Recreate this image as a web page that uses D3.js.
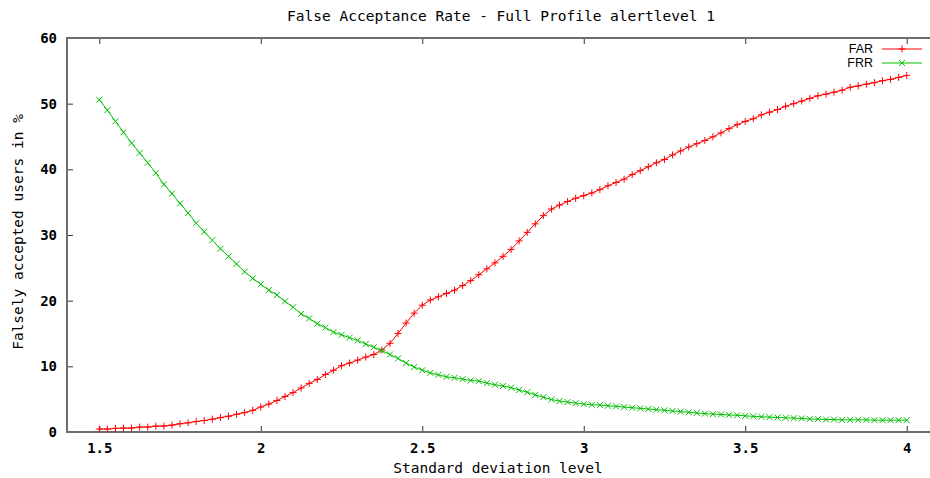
<!DOCTYPE html>
<html>
<head>
<meta charset="utf-8">
<script src="https://cdn.jsdelivr.net/npm/d3@7"></script>
<style>
  body { margin: 0; background: #fff; }
  text { font-family: "DejaVu Sans Mono", "Liberation Mono", monospace; }
</style>
</head>
<body>
<svg id="chart"></svg>
<script>
// standard deviation levels 1.5 .. 4.0, step 0.025
const levels = d3.range(0, 101).map(i => +(1.5 + i * 0.025).toFixed(3));

const farValues = [
  0.45, 0.45, 0.55, 0.6, 0.6, 0.75, 0.75, 0.9, 0.9, 1.05,
  1.25, 1.4, 1.6, 1.75, 1.95, 2.2, 2.4, 2.7, 2.95, 3.3,
  3.8, 4.25, 4.8, 5.4, 6.0, 6.7, 7.4, 8.0, 8.75, 9.4,
  10.1, 10.5, 10.95, 11.4, 11.8, 12.5, 13.5, 15.0, 16.6, 18.1,
  19.3, 20.1, 20.6, 21.1, 21.6, 22.3, 23.05, 23.95, 24.85, 25.75,
  26.75, 27.8, 29.1, 30.4, 31.7, 32.95, 33.95, 34.55, 35.1, 35.6,
  36.0, 36.4, 36.9, 37.5, 38.0, 38.5, 39.2, 39.8, 40.4, 41.0,
  41.5, 42.2, 42.8, 43.4, 43.9, 44.4, 44.95, 45.55, 46.2, 46.8,
  47.3, 47.7, 48.3, 48.7, 49.1, 49.6, 50.0, 50.4, 50.8, 51.2,
  51.45, 51.75, 52.05, 52.5, 52.7, 52.97, 53.2, 53.5, 53.7, 54.0,
  54.3
];

const frrValues = [
  50.6, 49.0, 47.3, 45.65, 44.0, 42.5, 41.0, 39.45, 37.7, 36.3,
  34.8, 33.35, 31.8, 30.5, 29.2, 27.9, 26.75, 25.6, 24.4, 23.4,
  22.5, 21.6, 20.85, 19.9, 19.0, 18.0, 17.3, 16.5, 15.9, 15.2,
  14.8, 14.35, 13.95, 13.4, 12.9, 12.4, 11.8, 11.2, 10.5, 9.9,
  9.4, 9.0, 8.7, 8.4, 8.25, 8.05, 7.85, 7.75, 7.45, 7.2,
  7.0, 6.75, 6.4, 6.05, 5.65, 5.3, 4.95, 4.7, 4.55, 4.4,
  4.25, 4.15, 4.1, 4.0, 3.9, 3.8, 3.7, 3.6, 3.5, 3.4,
  3.3, 3.2, 3.1, 3.0, 2.9, 2.8, 2.72, 2.67, 2.6, 2.55,
  2.46, 2.38, 2.32, 2.26, 2.21, 2.16, 2.11, 2.06, 1.98, 1.96,
  1.9, 1.9, 1.85, 1.85, 1.85, 1.85, 1.8, 1.8, 1.8, 1.8,
  1.8
];

const xTicks = [1.5, 2, 2.5, 3, 3.5, 4];
const yTicks = [0, 10, 20, 30, 40, 50, 60];
const seriesNames = ["FAR", "FRR"];

const title = "False Acceptance Rate - Full Profile alertlevel 1";
const xlab = "Standard deviation level";
const ylab = "Falsely accepted users in %";

const W = 930, H = 478;
const margin = { top: 38, left: 67 };
const w = 872;   // right border sits just past the picture edge
const h = 394;

const color = d3.scaleOrdinal().domain(seriesNames).range(["#ff0000", "#00c000"]);
const markers = {
  FAR: "M-3.5,0h7M0,-3.5v7",
  FRR: "M-3,-3l6,6M-3,3l6,-6"
};

const svg = d3.select("#chart").attr("width", W).attr("height", H);

const g = svg.append("g")
  .attr("transform", `translate(${margin.left},${margin.top})`);

const xScale = d3.scaleLinear().domain([1.4, 4.1]).range([0, w]);
const yScale = d3.scaleLinear().domain([0, 60]).range([h, 0]);

// axes, ticks pointing inward like gnuplot
const xAxis = g.append("g")
  .attr("transform", `translate(0,${h})`)
  .call(d3.axisBottom(xScale).tickValues(xTicks).tickSize(-6).tickPadding(11).tickFormat(d3.format("")));
const xTop = g.append("g")
  .call(d3.axisTop(xScale).tickValues(xTicks).tickSize(-6).tickFormat(""));
const yAxis = g.append("g")
  .call(d3.axisLeft(yScale).tickValues(yTicks).tickSize(-6).tickPadding(10));
const yRight = g.append("g")
  .attr("transform", `translate(${w},0)`)
  .call(d3.axisRight(yScale).tickValues(yTicks).tickSize(-6).tickFormat(""));

[xAxis, xTop, yAxis, yRight].forEach(a => {
  a.select(".domain").remove();
  a.selectAll(".tick line").attr("stroke", "#333").attr("stroke-width", 1);
  a.selectAll("text").style("font-size", "14px").style("font-weight", "bold").attr("fill", "#000");
});

// border
g.append("rect")
  .attr("x", 0).attr("y", 0)
  .attr("width", w).attr("height", h)
  .attr("fill", "none")
  .attr("stroke", "#6e6e6e")
  .attr("stroke-width", 2);

// curves
const series = [
  { name: "FAR", values: farValues },
  { name: "FRR", values: frrValues }
];

const line = d3.line()
  .x((d, i) => xScale(levels[i]))
  .y(d => yScale(d));

series.forEach(s => {
  g.append("path")
    .datum(s.values)
    .attr("d", line)
    .attr("fill", "none")
    .attr("stroke", color(s.name))
    .attr("stroke-width", 1);

  g.append("g").selectAll("path")
    .data(s.values)
    .enter()
    .append("path")
    .attr("d", markers[s.name])
    .attr("transform", (d, i) => `translate(${xScale(levels[i])},${yScale(d)})`)
    .attr("fill", "none")
    .attr("stroke", color(s.name))
    .attr("stroke-width", 1);
});

// title and axis labels
svg.append("text")
  .attr("x", 501).attr("y", 21)
  .attr("text-anchor", "middle")
  .style("font-size", "14.5px")
  .text(title);

svg.append("text")
  .attr("x", 498).attr("y", 473)
  .attr("text-anchor", "middle")
  .style("font-size", "14.5px")
  .text(xlab);

svg.append("text")
  .attr("transform", "translate(23,232) rotate(-90)")
  .attr("text-anchor", "middle")
  .style("font-size", "14.5px")
  .text(ylab);

// legend, top right
const legend = svg.append("g").attr("class", "legend");
const legendItems = legend.selectAll(".legend-item")
  .data(seriesNames)
  .enter()
  .append("g")
  .attr("class", "legend-item")
  .attr("transform", (d, i) => `translate(0,${49 + i * 14})`);

legendItems.append("text")
  .attr("x", 873)
  .attr("dy", "0.35em")
  .attr("text-anchor", "end")
  .style("font-family", "'Liberation Sans', sans-serif")
  .style("font-size", "12.5px")
  .text(d => d);

legendItems.append("line")
  .attr("x1", 882).attr("x2", 922)
  .attr("y1", 0).attr("y2", 0)
  .attr("stroke", d => color(d));

legendItems.append("path")
  .attr("d", d => markers[d])
  .attr("transform", "translate(902,0)")
  .attr("fill", "none")
  .attr("stroke", d => color(d));
</script>
</body>
</html>
